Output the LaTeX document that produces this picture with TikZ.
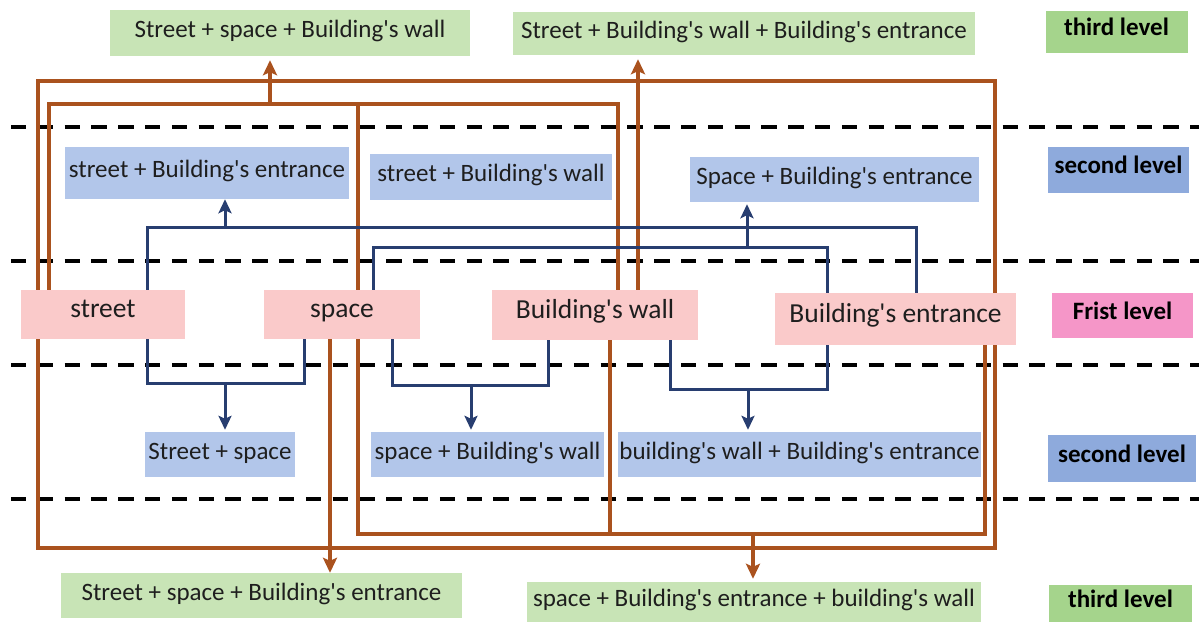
\documentclass[tikz,border=0pt]{standalone}
\usepackage{fontspec}
\setmainfont{Carlito}
\usetikzlibrary{arrows.meta,backgrounds}
\definecolor{brn}{RGB}{170,82,30}
\definecolor{nvy}{RGB}{40,62,112}
\definecolor{pnk}{RGB}{250,202,202}
\definecolor{lgreen}{RGB}{200,228,182}
\definecolor{lblue}{RGB}{178,198,234}
\definecolor{lvlgreen}{RGB}{165,212,140}
\definecolor{lvlblue}{RGB}{142,170,220}
\definecolor{lvlpink}{RGB}{245,150,200}
\definecolor{txt}{RGB}{30,30,30}
\newcommand\ap{\textquotesingle}
\begin{document}
\begin{tikzpicture}[x=1pt,y=-1pt,
  box/.style={inner sep=0pt, anchor=center, text=txt},
  firstbox/.style={box, fill=pnk, font=\fontsize{27.5}{30}\selectfont, text height=19pt, text depth=13pt},
  secbox/.style={box, fill=lblue, font=\fontsize{25}{28}\selectfont, text height=18pt, text depth=9pt},
  thirdbox/.style={box, fill=lgreen, font=\fontsize{25}{28}\selectfont, text height=18pt, text depth=9pt},
  lvl/.style={box, text=black, font=\bfseries\fontsize{25}{28}\selectfont, text height=18pt, text depth=11pt},
  brline/.style={draw=brn, line width=3.3pt},
  blline/.style={draw=nvy, line width=3pt},
  brarrow/.style={brline, -{Stealth[length=15pt,width=14pt,inset=3pt]}},
  blarrow/.style={blline, -{Stealth[length=14pt,width=13pt,inset=3pt]}},
  sepline/.style={draw=black, line width=3.2pt, dash pattern=on 15.3pt off 11.5pt}
]
\useasboundingbox (0,0) rectangle (1199,622);

% ---------- nodes ----------
\node[thirdbox, minimum width=360pt, minimum height=46pt] (G1) at (290,33) {Street + space + Building\ap s wall};
\node[thirdbox, minimum width=462pt, minimum height=43pt] (G2) at (744,33.5) {Street + Building\ap s wall + Building\ap s entrance};
\node[lvl, fill=lvlgreen, minimum width=142pt, minimum height=42pt] (L3a) at (1116.5,32) {third level};

\node[secbox, minimum width=284pt, minimum height=52pt] (B1) at (207,173) {street + Building\ap s entrance};
\node[secbox, minimum width=242pt, minimum height=46pt] (B2) at (491,177) {street + Building\ap s wall};
\node[secbox, minimum width=289pt, minimum height=45pt] (B3) at (834.5,179.5) {Space + Building\ap s entrance};
\node[lvl, fill=lvlblue, minimum width=141pt, minimum height=46pt] (L2a) at (1118.5,170) {second level};

\node[firstbox, minimum width=164pt, minimum height=49pt] (street) at (103,314.5) {street};
\node[firstbox, minimum width=156pt, minimum height=49pt] (space) at (342,314.5) {space};
\node[firstbox, minimum width=206pt, minimum height=50pt] (wall) at (595,315) {Building\ap s wall};
\node[firstbox, minimum width=241pt, minimum height=52pt] (entrance) at (895.5,319) {Building\ap s entrance};
\node[lvl, fill=lvlpink, minimum width=141pt, minimum height=45pt] (L1) at (1122.5,315.5) {Frist level};

\node[secbox, minimum width=150pt, minimum height=45pt] (B4) at (220,454.5) {Street + space};
\node[secbox, minimum width=233pt, minimum height=45pt] (B5) at (487.5,454.5) {space + Building\ap s wall};
\node[secbox, minimum width=363pt, minimum height=45pt] (B6) at (799.5,454.5) {building\ap s wall + Building\ap s entrance};
\node[lvl, fill=lvlblue, minimum width=148pt, minimum height=47pt] (L2b) at (1122,458.5) {second level};

\node[thirdbox, minimum width=401pt, minimum height=45pt] (G3) at (261.5,595.5) {Street + space + Building\ap s entrance};
\node[thirdbox, minimum width=454pt, minimum height=40pt] (G4) at (754,602) {space + Building\ap s entrance + building\ap s wall};
\node[lvl, fill=lvlgreen, minimum width=143pt, minimum height=37pt] (L3b) at (1120.5,603.5) {third level};

% ---------- lanes ----------
\coordinate (xA) at (38,0);
\coordinate (xB) at (49,0);
\coordinate (xG1) at (270,0);
\coordinate (xSdn) at (330,0);
\coordinate (xS) at (358,0);
\coordinate (xWb) at (610,0);
\coordinate (xW) at (618,0);
\coordinate (xWup) at (638,0);
\coordinate (xG4) at (753,0);
\coordinate (xEb) at (985,0);
\coordinate (xE) at (995,0);
\coordinate (yOT) at (0,81);
\coordinate (yIT) at (0,104);
\coordinate (yIB) at (0,534);
\coordinate (yOB) at (0,548);

\coordinate (xSt) at (147,0);
\coordinate (xB1) at (225,0);
\coordinate (xSp2) at (304,0);
\coordinate (xSp1) at (373,0);
\coordinate (xSp3) at (392,0);
\coordinate (xB5) at (471,0);
\coordinate (xW4) at (548,0);
\coordinate (xW5) at (670,0);
\coordinate (xB3) at (747,0);
\coordinate (xB6) at (748,0);
\coordinate (xE2) at (827,0);
\coordinate (xE1) at (916,0);
\coordinate (yb1) at (0,227);
\coordinate (yb2) at (0,247);
\coordinate (yb3) at (0,383);
\coordinate (yb4) at (0,385);
\coordinate (yb5) at (0,389);

\begin{pgfonlayer}{background}
% level separators
\foreach \yy in {127,261,365,499} \draw[sepline] (11,\yy) -- (1199,\yy);

% brown: third-level combinations
\draw[brline] (street.north -| xB) |- (xW |- yIT) -- (wall.north -| xW);
\draw[brline] (space.north -| xS) -- (xS |- yIT);
\draw[brarrow, shorten >=4pt] (xG1 |- yIT) -- (xG1 |- G1.south);

\draw[brline] (street.north -| xA) |- (xE |- yOT) -- (entrance.north -| xE);
\draw[brarrow, shorten >=4pt] (wall.north -| xWup) -- (xWup |- G2.south);

\draw[brline] (street.south -| xA) |- (xE |- yOB) -- (entrance.south -| xE);
\draw[brarrow] (space.south -| xSdn) -- (xSdn |- G3.north);

\draw[brline] (space.south -| xS) |- (xEb |- yIB) -- (entrance.south -| xEb);
\draw[brline] (wall.south -| xWb) -- (xWb |- yIB);
\draw[brarrow, shorten >=3pt] (xG4 |- yIB) -- (xG4 |- G4.north);

% blue: second-level combinations
\draw[blline] (street.north -| xSt) |- (xE1 |- yb1) -- (entrance.north -| xE1);
\draw[blarrow] (xB1 |- yb1) -- (xB1 |- B1.south);
\draw[blline] (space.north -| xSp1) |- (xE2 |- yb2) -- (entrance.north -| xE2);
\draw[blarrow, shorten >=2pt] (xB3 |- yb2) -- (xB3 |- B3.south);
\draw[blline] (street.south -| xSt) |- (xSp2 |- yb3) -- (space.south -| xSp2);
\draw[blarrow, shorten >=2pt] (xB1 |- yb3) -- (xB1 |- B4.north);
\draw[blline] (space.south -| xSp3) |- (xW4 |- yb4) -- (wall.south -| xW4);
\draw[blarrow, shorten >=2pt] (xB5 |- yb4) -- (xB5 |- B5.north);
\draw[blline] (wall.south -| xW5) |- (xE2 |- yb5) -- (entrance.south -| xE2);
\draw[blarrow, shorten >=2pt] (xB6 |- yb5) -- (xB6 |- B6.north);
\end{pgfonlayer}
\end{tikzpicture}
\end{document}
